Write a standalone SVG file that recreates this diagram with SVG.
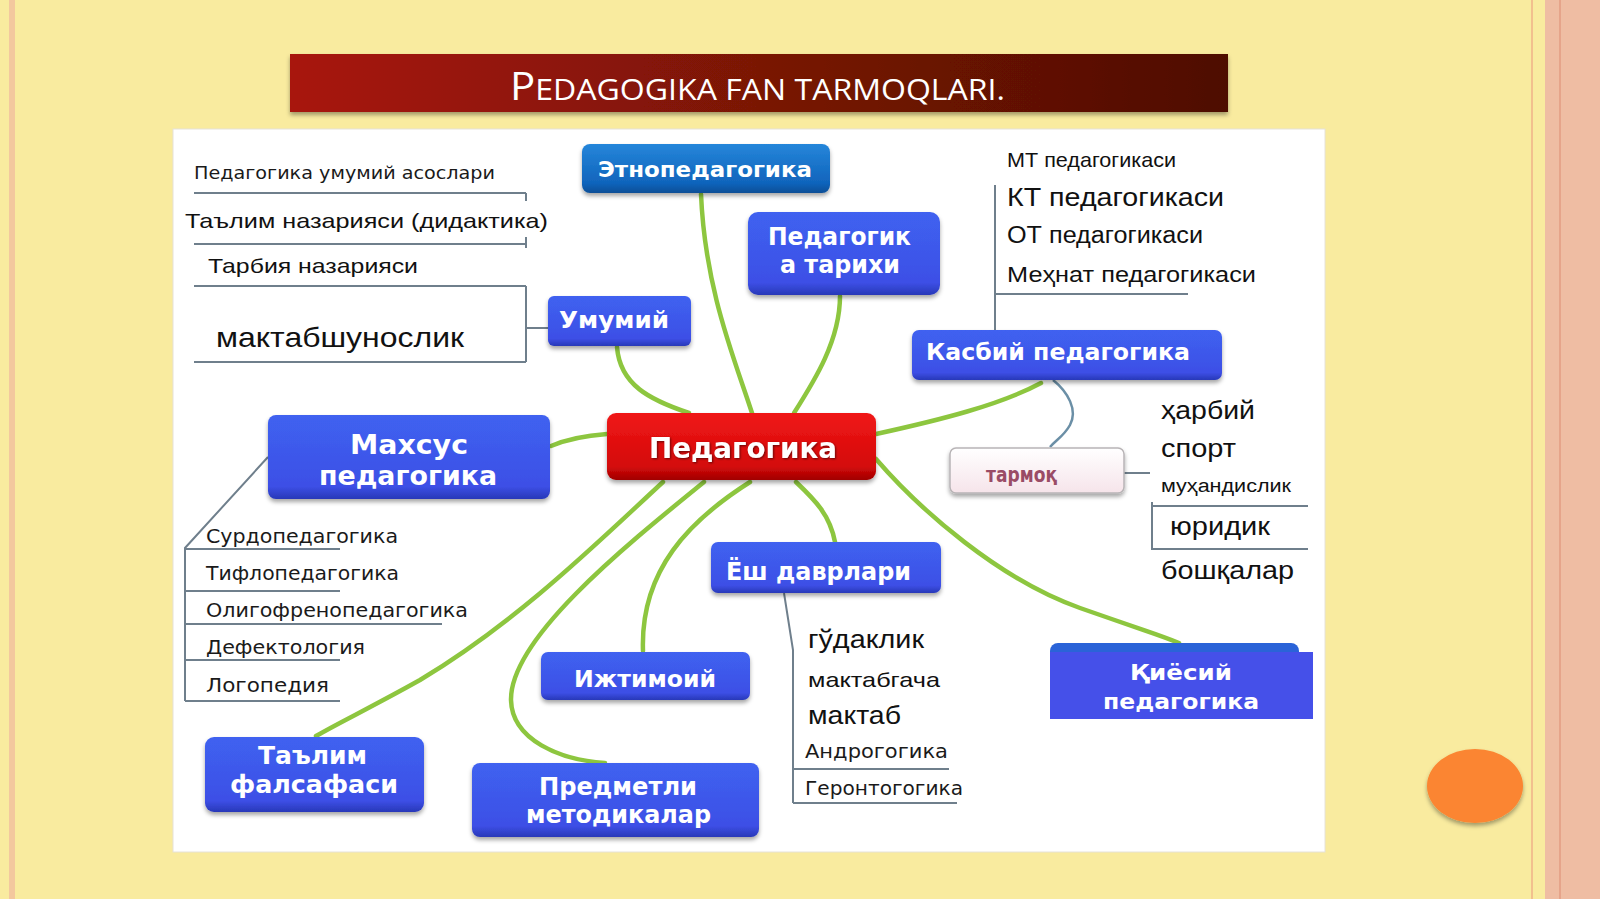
<svg xmlns="http://www.w3.org/2000/svg" width="1600" height="899" viewBox="0 0 1600 899">
<defs>
<linearGradient id="gTitle" x1="0" y1="0" x2="1" y2="0">
<stop offset="0" stop-color="#A8170A"/><stop offset="0.5" stop-color="#7A1406"/><stop offset="1" stop-color="#4E0F04"/>
</linearGradient>
<linearGradient id="gBlue" x1="0" y1="0" x2="0" y2="1">
<stop offset="0" stop-color="#3F62F0"/><stop offset="0.85" stop-color="#3D4FE6"/><stop offset="1" stop-color="#2838B8"/>
</linearGradient>
<linearGradient id="gEthno" x1="0" y1="0" x2="0" y2="1">
<stop offset="0" stop-color="#2586DA"/><stop offset="0.8" stop-color="#1064BC"/><stop offset="1" stop-color="#0A4E96"/>
</linearGradient>
<linearGradient id="gRed" x1="0" y1="0" x2="0" y2="1">
<stop offset="0" stop-color="#F01818"/><stop offset="0.8" stop-color="#D40808"/><stop offset="1" stop-color="#A00404"/>
</linearGradient>
<linearGradient id="gPink" x1="0" y1="0" x2="0" y2="1">
<stop offset="0" stop-color="#FFFFFF"/><stop offset="1" stop-color="#F6E4EA"/>
</linearGradient>
<filter id="sh" x="-10%" y="-10%" width="120%" height="140%">
<feDropShadow dx="0" dy="3" stdDeviation="2" flood-color="#000" flood-opacity="0.35"/>
</filter>
<filter id="tsh" x="-5%" y="-10%" width="110%" height="140%">
<feDropShadow dx="1" dy="1" stdDeviation="0.8" flood-color="#000" flood-opacity="0.55"/>
</filter>
</defs>
<style>
.nt{font-family:"DejaVu Sans","Liberation Sans",sans-serif;font-weight:bold;fill:#FFFFFF;}
.lt{font-family:"Liberation Sans","DejaVu Sans",sans-serif;fill:#111111;}
.ls{font-family:"DejaVu Sans","Liberation Sans",sans-serif;fill:#1A1A1A;}
.green{fill:none;stroke:#8DC63F;stroke-width:4.5;stroke-linecap:round;}
.gray{fill:none;stroke:#6F7F8C;stroke-width:2;}
.grayb{fill:none;stroke:#6B8FA6;stroke-width:2.5;}
</style>

<!-- background -->
<rect x="0" y="0" width="1600" height="899" fill="#F9EB9F"/>
<rect x="9" y="0" width="6" height="899" fill="#F3C89E"/>
<rect x="1531" y="0" width="2" height="899" fill="#F2C08E"/>
<rect x="1545" y="0" width="55" height="899" fill="#EFBDA3"/>
<rect x="1559" y="0" width="2" height="899" fill="#E6A48A"/>

<!-- title -->
<g id="title">
<rect x="290" y="54" width="938" height="58" fill="url(#gTitle)" filter="url(#sh)"/>
<text x="510" y="100" textLength="495" lengthAdjust="spacingAndGlyphs" font-family="Open Sans, Liberation Sans, sans-serif" fill="#FFFFFF"><tspan font-size="38">P</tspan><tspan font-size="29">EDAGOGIKA FAN TARMOQLARI.</tspan></text>
</g>

<!-- panel -->
<rect x="173" y="129" width="1152" height="723" fill="#FFFFFF" stroke="#E6E2D8" stroke-width="1"/>

<!-- connectors -->
<g id="connectors">
<path class="green" d="M752,413 C735,360 705,290 701,194"/>
<path class="green" d="M794,413 C815,380 840,340 840,296"/>
<path class="green" d="M689,413 C650,400 620,385 617,347"/>
<path class="green" d="M607,434 C580,436 565,440 551,446"/>
<path class="green" d="M876,434 C940,420 1000,405 1041,383"/>
<path class="green" d="M876,459 C920,510 1000,580 1080,608 S1160,635 1179,643"/>
<path class="green" d="M796,482 C815,500 830,515 835,542"/>
<path class="green" d="M750,482 C690,520 640,570 643,651"/>
<path class="green" d="M704,482 C620,550 510,640 511,700 C512,740 560,760 605,763"/>
<path class="green" d="M663,482 C600,540 520,620 420,680 C370,708 340,722 316,736"/>
<path class="grayb" d="M1053,380 C1068,392 1078,410 1070,425 C1064,436 1056,440 1050,447"/>
<!-- Umumiy bracket -->
<path class="gray" d="M194,193 H526 M194,244 H526 M194,286 H526 M194,362 H526 M526,193 V201 M526,237 V248 M526,286 V362 M526,328 H548"/>
<!-- Kasbiy list -->
<path class="gray" d="M995,185 V330 M995,294 H1188"/>
<!-- tarmoq list -->
<path class="gray" d="M1124,473 H1150 M1152,502 V550 M1152,506 H1308 M1152,549 H1308"/>
<!-- Maxsus list -->
<path class="gray" d="M268,457 L185,548 V701 M185,549 H340 M185,591 H340 M185,624 H442 M185,660 H340 M185,701 H340"/>
<!-- Yosh list -->
<path class="gray" d="M784,593 L793,650 V803 M793,769 H949 M793,803 H957"/>
</g>

<!-- nodes -->
<g id="n-ethno">
<rect x="582" y="144" width="248" height="49" rx="8" fill="url(#gEthno)" filter="url(#sh)"/>
<text class="nt" x="598" y="177" font-size="22" textLength="214" lengthAdjust="spacingAndGlyphs">Этнопедагогика</text>
</g>
<g id="n-tarixi">
<rect x="748" y="212" width="192" height="83" rx="10" fill="url(#gBlue)" filter="url(#sh)"/>
<text class="nt" x="768" y="245" font-size="25" textLength="143" lengthAdjust="spacingAndGlyphs">Педагогик</text>
<text class="nt" x="780" y="273" font-size="25" textLength="120" lengthAdjust="spacingAndGlyphs">а тарихи</text>
</g>
<g id="n-umumiy">
<rect x="548" y="296" width="143" height="50" rx="6" fill="url(#gBlue)" filter="url(#sh)"/>
<text class="nt" x="559" y="328" font-size="23" textLength="110" lengthAdjust="spacingAndGlyphs">Умумий</text>
</g>
<g id="n-kasbiy">
<rect x="912" y="330" width="310" height="50" rx="7" fill="url(#gBlue)" filter="url(#sh)"/>
<text class="nt" x="926" y="360" font-size="23" textLength="264" lengthAdjust="spacingAndGlyphs">Касбий педагогика</text>
</g>
<g id="n-pedagogika">
<rect x="607" y="413" width="269" height="67" rx="9" fill="url(#gRed)" filter="url(#sh)"/>
<text class="nt" x="649" y="458" font-size="29" textLength="188" lengthAdjust="spacingAndGlyphs" filter="url(#tsh)" fill="#FFF4F0">Педагогика</text>
</g>
<g id="n-maxsus">
<rect x="268" y="415" width="282" height="84" rx="8" fill="url(#gBlue)" filter="url(#sh)"/>
<text class="nt" x="350" y="454" font-size="27" textLength="118" lengthAdjust="spacingAndGlyphs">Махсус</text>
<text class="nt" x="319" y="485" font-size="27" textLength="178" lengthAdjust="spacingAndGlyphs">педагогика</text>
</g>
<g id="n-tarmoq">
<rect x="950" y="448" width="174" height="45" rx="6" fill="url(#gPink)" stroke="#B8B4B6" stroke-width="1.5" filter="url(#sh)"/>
<text x="986" y="482" font-size="21" textLength="71" lengthAdjust="spacingAndGlyphs" font-family="DejaVu Sans, Liberation Sans, sans-serif" font-weight="bold" fill="#9A4C66">тармоқ</text>
</g>
<g id="n-yosh">
<rect x="711" y="542" width="230" height="51" rx="7" fill="url(#gBlue)" filter="url(#sh)"/>
<text class="nt" x="726" y="580" font-size="24" textLength="185" lengthAdjust="spacingAndGlyphs">Ёш даврлари</text>
</g>
<g id="n-ijtimoiy">
<rect x="541" y="652" width="209" height="48" rx="7" fill="url(#gBlue)" filter="url(#sh)"/>
<text class="nt" x="574" y="687" font-size="23" textLength="142" lengthAdjust="spacingAndGlyphs">Ижтимоий</text>
</g>
<g id="n-qiyosiy">
<rect x="1050" y="643" width="249" height="40" rx="8" fill="#2A63D8"/>
<rect x="1050" y="652" width="263" height="67" fill="#4550E9"/>
<text class="nt" x="1130" y="680" font-size="22" textLength="102" lengthAdjust="spacingAndGlyphs">Қиёсий</text>
<text class="nt" x="1103" y="709" font-size="22" textLength="156" lengthAdjust="spacingAndGlyphs">педагогика</text>
</g>
<g id="n-talim">
<rect x="205" y="737" width="219" height="75" rx="9" fill="url(#gBlue)" filter="url(#sh)"/>
<text class="nt" x="258" y="764" font-size="24" textLength="109" lengthAdjust="spacingAndGlyphs">Таълим</text>
<text class="nt" x="230" y="793" font-size="24" textLength="168" lengthAdjust="spacingAndGlyphs">фалсафаси</text>
</g>
<g id="n-predmetli">
<rect x="472" y="763" width="287" height="74" rx="8" fill="url(#gBlue)" filter="url(#sh)"/>
<text class="nt" x="539" y="795" font-size="24" textLength="158" lengthAdjust="spacingAndGlyphs">Предметли</text>
<text class="nt" x="526" y="823" font-size="24" textLength="185" lengthAdjust="spacingAndGlyphs">методикалар</text>
</g>

<!-- list texts -->
<g id="list-umumiy">
<text class="ls" x="194" y="179" font-size="18" textLength="301" lengthAdjust="spacingAndGlyphs">Педагогика умумий асослари</text>
<text class="lt" x="185" y="228" font-size="21" textLength="363" lengthAdjust="spacingAndGlyphs">Таълим назарияси (дидактика)</text>
<text class="lt" x="208" y="273" font-size="21" textLength="210" lengthAdjust="spacingAndGlyphs">Тарбия назарияси</text>
<text class="lt" x="216" y="347" font-size="28" textLength="248" lengthAdjust="spacingAndGlyphs">мактабшунослик</text>
</g>
<g id="list-kasbiy">
<text class="lt" x="1007" y="167" font-size="21" textLength="169" lengthAdjust="spacingAndGlyphs">МТ педагогикаси</text>
<text class="lt" x="1007" y="206" font-size="26" textLength="217" lengthAdjust="spacingAndGlyphs">КТ педагогикаси</text>
<text class="lt" x="1007" y="243" font-size="23" textLength="196" lengthAdjust="spacingAndGlyphs">ОТ педагогикаси</text>
<text class="lt" x="1007" y="282" font-size="22" textLength="249" lengthAdjust="spacingAndGlyphs">Меҳнат педагогикаси</text>
</g>
<g id="list-tarmoq">
<text class="lt" x="1161" y="419" font-size="26" textLength="94" lengthAdjust="spacingAndGlyphs">ҳарбий</text>
<text class="lt" x="1161" y="457" font-size="26" textLength="75" lengthAdjust="spacingAndGlyphs">спорт</text>
<text class="lt" x="1161" y="492" font-size="18" textLength="130" lengthAdjust="spacingAndGlyphs">муҳандислик</text>
<text class="lt" x="1170" y="535" font-size="26" textLength="100" lengthAdjust="spacingAndGlyphs">юридик</text>
<text class="lt" x="1161" y="579" font-size="26" textLength="133" lengthAdjust="spacingAndGlyphs">бошқалар</text>
</g>
<g id="list-maxsus">
<text class="ls" x="206" y="543" font-size="19" textLength="192" lengthAdjust="spacingAndGlyphs">Сурдопедагогика</text>
<text class="ls" x="206" y="580" font-size="19" textLength="193" lengthAdjust="spacingAndGlyphs">Тифлопедагогика</text>
<text class="ls" x="206" y="617" font-size="19" textLength="262" lengthAdjust="spacingAndGlyphs">Олигофренопедагогика</text>
<text class="ls" x="206" y="654" font-size="19" textLength="159" lengthAdjust="spacingAndGlyphs">Дефектология</text>
<text class="ls" x="206" y="692" font-size="19" textLength="123" lengthAdjust="spacingAndGlyphs">Логопедия</text>
</g>
<g id="list-yosh">
<text class="lt" x="808" y="648" font-size="26" textLength="116" lengthAdjust="spacingAndGlyphs">гўдаклик</text>
<text class="lt" x="808" y="687" font-size="21" textLength="132" lengthAdjust="spacingAndGlyphs">мактабгача</text>
<text class="lt" x="808" y="724" font-size="26" textLength="93" lengthAdjust="spacingAndGlyphs">мактаб</text>
<text class="ls" x="805" y="758" font-size="19" textLength="143" lengthAdjust="spacingAndGlyphs">Андрогогика</text>
<text class="ls" x="805" y="795" font-size="19" textLength="158" lengthAdjust="spacingAndGlyphs">Геронтогогика</text>
</g>

<!-- decoration -->
<ellipse cx="1475" cy="786" rx="48" ry="37" fill="#FB8530" filter="url(#sh)"/>
</svg>
